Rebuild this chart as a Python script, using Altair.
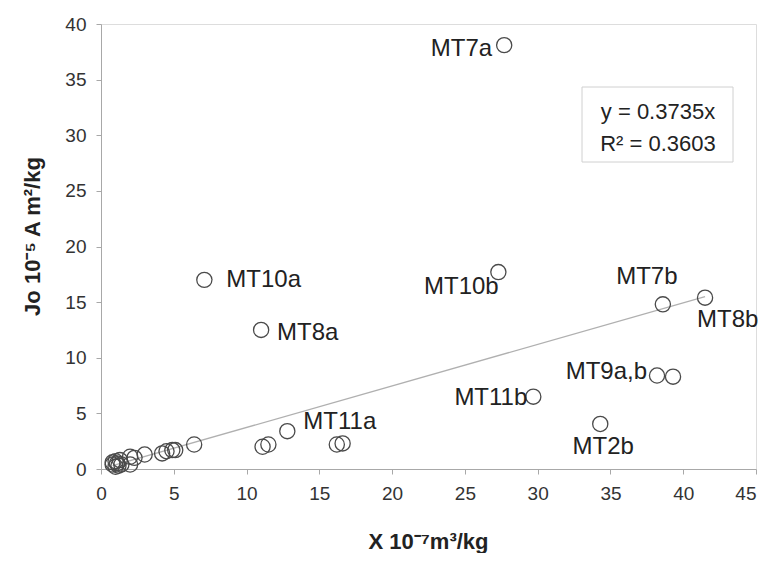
import altair as alt
import pandas as pd

# Labelled samples
lab_names = ["MT7a", "MT10a", "MT8a", "MT10b", "MT7b", "MT8b", "MT11b", "MT9a,b", "MT2b", "MT11a"]
lab_x = [27.7, 7.1, 11.0, 27.3, 38.6, 41.5, 29.7, 38.2, 34.3, 12.8]
lab_y = [38.1, 17.0, 12.5, 17.7, 14.8, 15.4, 6.5, 8.4, 4.05, 3.4]

# Unlabelled samples
pts_x = [39.3, 11.1, 11.5, 16.2, 16.6, 6.4, 4.2, 4.5, 4.9, 5.1, 3.0, 2.3, 2.0, 2.0,
         0.8, 1.1, 1.0, 1.3, 0.8, 1.4, 1.0, 1.2]
pts_y = [8.3, 2.0, 2.2, 2.2, 2.3, 2.2, 1.4, 1.6, 1.7, 1.7, 1.3, 1.0, 1.1, 0.4,
         0.6, 0.5, 0.2, 0.8, 0.4, 0.4, 0.7, 0.3]

slope = 0.3735
r2 = 0.3603

x_ticks = [0, 5, 10, 15, 20, 25, 30, 35, 40, 45]
y_ticks = [0, 5, 10, 15, 20, 25, 30, 35, 40]

FONT = "Liberation Sans"

all_x = lab_x + pts_x
all_y = lab_y + pts_y
points = pd.DataFrame({"x": all_x, "y": all_y})
labels = pd.DataFrame({"name": lab_names, "x": lab_x, "y": lab_y})
xmin, xmax = min(all_x), max(all_x)
trend = pd.DataFrame({"x": [xmin, xmax], "y": [slope * xmin, slope * xmax]})

xscale = alt.Scale(domain=[0, 45], nice=False)
yscale = alt.Scale(domain=[0, 40], nice=False)

xaxis = alt.Axis(values=x_ticks, grid=False, title="X  10⁻⁷m³/kg", titleFont=FONT,
                 titleFontSize=22, titleFontWeight="bold", titleColor="#222",
                 titleX=327, titleY=72, titleBaseline="middle", titleAlign="center",
                 labelFont=FONT, labelFontSize=19, labelColor="#333", labelPadding=10,
                 labelAlign={"condition": {"test": "datum.value >= 45", "value": "right"},
                             "value": "center"},
                 domainColor="#a8a8a8", tickColor="#a8a8a8", tickSize=5, labelFlush=False)
yaxis = alt.Axis(values=y_ticks, grid=False, title="Jo 10⁻⁵ A m²/kg", titleFont=FONT,
                 titleFontSize=22, titleFontWeight="bold", titleColor="#222",
                 titleX=-69, titleY=212, titleAngle=270, titleBaseline="middle",
                 titleAlign="center",
                 labelFont=FONT, labelFontSize=19, labelColor="#333", labelPadding=10,
                 domainColor="#a8a8a8", tickColor="#a8a8a8", tickSize=5, labelFlush=False)

line = alt.Chart(trend).mark_line(color="#b0b0b0", strokeWidth=1.3).encode(
    x=alt.X("x:Q", scale=xscale, axis=xaxis),
    y=alt.Y("y:Q", scale=yscale, axis=yaxis),
)

circles = alt.Chart(points).mark_point(shape="circle", filled=False, size=230,
                                       stroke="#4a4a4a", strokeWidth=1.3, opacity=1).encode(
    x=alt.X("x:Q", scale=xscale),
    y=alt.Y("y:Q", scale=yscale),
)

# label offsets relative to its point: (dx, dy, align)
offsets = {
    "MT7a": (-12, 4, "right"),
    "MT10a": (22, 0, "left"),
    "MT8a": (16, 3, "left"),
    "MT10b": (-37, 15, "center"),
    "MT7b": (-16, -27, "center"),
    "MT8b": (-8, 22, "left"),
    "MT11b": (-6, 1, "right"),
    "MT9a,b": (-10, -4, "right"),
    "MT2b": (3, 23, "center"),
    "MT11a": (16, -9, "left"),
}

text_layers = []
for name in lab_names:
    dx, dy, al = offsets[name]
    t = alt.Chart(labels).transform_filter(alt.datum.name == name).mark_text(
        font=FONT, fontSize=24, color="#222", dx=dx, dy=dy, align=al, baseline="middle"
    ).encode(x=alt.X("x:Q", scale=xscale), y=alt.Y("y:Q", scale=yscale), text="name:N")
    text_layers.append(t)

box = alt.Chart(pd.DataFrame({"a": [0]})).mark_rect(
    fill="white", stroke="#d0d0d0", strokeWidth=1
).encode(x=alt.value(481), x2=alt.value(632), y=alt.value(63), y2=alt.value(138))

eq1 = alt.Chart(pd.DataFrame({"t": [f"y = {slope}x"]})).mark_text(
    font=FONT, fontSize=22, color="#222", align="center", baseline="middle"
).encode(x=alt.value(557), y=alt.value(88), text="t:N")
eq2 = alt.Chart(pd.DataFrame({"t": [f"R² = {r2}"]})).mark_text(
    font=FONT, fontSize=22, color="#222", align="center", baseline="middle"
).encode(x=alt.value(557), y=alt.value(120), text="t:N")

chart = alt.layer(line, circles, *text_layers, box, eq1, eq2).properties(
    width=655, height=445,
    padding={"left": 93, "top": 16, "right": 3, "bottom": 84},
    autosize="none",
).configure_view(stroke=None).configure(background="white")

chart.save("out.html", embed_options={"renderer": "svg", "actions": False})
